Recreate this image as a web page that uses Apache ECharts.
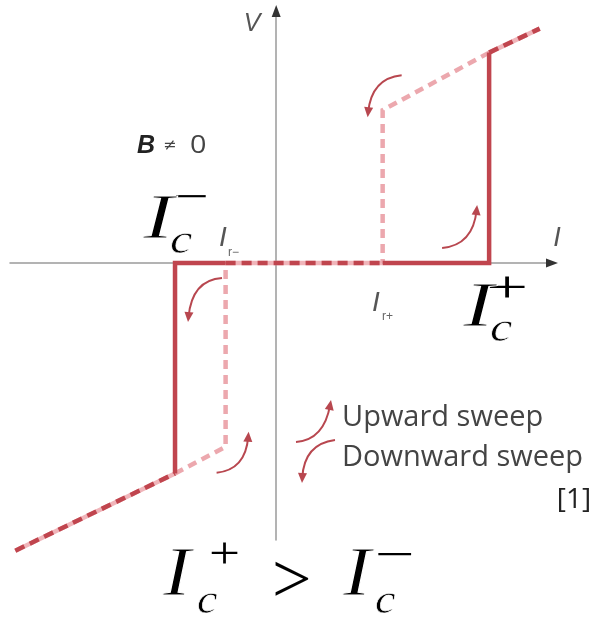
<!DOCTYPE html>
<html>
<head>
<meta charset="utf-8">
<script src="https://cdn.jsdelivr.net/npm/echarts@6/dist/echarts.min.js"></script>
<style>
  html, body { margin: 0; padding: 0; background: #ffffff; }
  #chart { width: 595px; height: 618px; }
</style>
</head>
<body>
<div id="chart"></div>
<script>
// Axis extents (arbitrary units)
const currentRange = [-5, 5.2];
const voltageRange = [-5.2, 4.75];

// Critical and retrapping currents
const icPlus = 4.0;
const icMinus = -1.9;
const irPlus = 2.0;
const irMinus = -0.95;

// Voltage right after each jump
const vAtIcPlus = 3.95;
const vAtIrPlus = 2.87;
const vAtIcMinus = -3.95;
const vAtIrMinus = -3.45;

// Far ends of the resistive branches
const currentEnds = [-4.9, 4.95];
const voltageEnds = [-5.4, 4.4];

// Branches of the loop as [current, voltage] pairs
const branchNegNormal = [[currentEnds[0], voltageEnds[0]], [icMinus, vAtIcMinus]];   // both sweeps
const branchZero = [[irMinus, 0], [irPlus, 0]];                                         // both sweeps
const branchPosNormal = [[icPlus, vAtIcPlus], [currentEnds[1], voltageEnds[1]]];       // both sweeps
const branchUpSwitch = [[irPlus, 0], [icPlus, 0], [icPlus, vAtIcPlus]];                 // upward sweep switches at Ic+
const branchDownSwitch = [[irMinus, 0], [icMinus, 0], [icMinus, vAtIcMinus]];           // downward sweep switches at Ic-
const branchUpRetrap = [[icMinus, vAtIcMinus], [irMinus, vAtIrMinus], [irMinus, 0]];    // upward sweep retraps at Ir-
const branchDownRetrap = [[icPlus, vAtIcPlus], [irPlus, vAtIrPlus], [irPlus, 0]];       // downward sweep retraps at Ir+

const RED = '#c0454e';
const PINK = '#eca8ae';
const PINK_UNDER = '#f0b5ba';
const AXIS = '#9a9a9a';
const ARROW = '#b8474f';

const chart = echarts.init(document.getElementById('chart'), null, { renderer: 'canvas' });

function lineSeries(name, data, lineStyle, z) {
  return {
    type: 'line', name, data, z,
    symbol: 'none', clip: false, silent: true, animation: false,
    lineStyle: Object.assign({ cap: 'butt', join: 'miter' }, lineStyle)
  };
}

const series = [];
// shared branches: pink band with red dashes on top
[branchNegNormal, branchZero, branchPosNormal].forEach((b, i) => {
  series.push(lineSeries('shared-under-' + i, b, { color: PINK_UNDER, width: 4.5 }, 2));
  series.push(lineSeries('shared-dash-' + i, b, { color: RED, width: 4.5, type: [10, 6] }, 3));
});
// retrapping branches: light dashed
series.push(lineSeries('up-retrap', branchUpRetrap, { color: PINK, width: 4.5, type: [9, 6] }, 2));
series.push(lineSeries('down-retrap', branchDownRetrap, { color: PINK, width: 4.5, type: [9, 6] }, 2));
// switching branches: solid
series.push(lineSeries('up-switch', branchUpSwitch, { color: RED, width: 4.5 }, 4));
series.push(lineSeries('down-switch', branchDownSwitch, { color: RED, width: 4.5 }, 4));

const axisCommon = {
  type: 'value',
  axisLine: { show: true, onZero: true, lineStyle: { color: AXIS, width: 1.5 } },
  axisTick: { show: false },
  axisLabel: { show: false },
  splitLine: { show: false }
};

chart.setOption({
  animation: false,
  backgroundColor: '#ffffff',
  grid: { left: 10, right: 42, top: 10, bottom: 78, containLabel: false },
  xAxis: Object.assign({}, axisCommon, { min: currentRange[0], max: currentRange[1] }),
  yAxis: Object.assign({}, axisCommon, { min: voltageRange[0], max: voltageRange[1] }),
  series
});

const px = (i, v) => chart.convertToPixel({ xAxisIndex: 0, yAxisIndex: 0 }, [i, v]);

function arrowHead(tip, dir, len, half, color) {
  const bx = tip[0] - dir[0] * len, by = tip[1] - dir[1] * len;
  const nx = -dir[1], ny = dir[0];
  return {
    type: 'polygon', silent: true, z: 10,
    shape: { points: [tip, [bx + nx * half, by + ny * half], [bx - nx * half, by - ny * half]] },
    style: { fill: color }
  };
}

function curvedArrow(p0, c, p1) {
  const dx = p1[0] - c[0], dy = p1[1] - c[1];
  const d = Math.hypot(dx, dy);
  const dir = [dx / d, dy / d];
  const end = [p1[0] - dir[0] * 5, p1[1] - dir[1] * 5];
  return [
    {
      type: 'bezierCurve', silent: true, z: 10,
      shape: { x1: p0[0], y1: p0[1], cpx1: c[0], cpy1: c[1], x2: end[0], y2: end[1] },
      style: { stroke: ARROW, lineWidth: 2, fill: null }
    },
    arrowHead(p1, dir, 10, 4.5, ARROW)
  ];
}

function shift(base, d) { return [base[0] + d[0], base[1] + d[1]]; }

const graphics = [];

// axis arrowheads
const xEnd = px(currentRange[1], 0);
const yEnd = px(0, voltageRange[1]);
graphics.push(arrowHead([xEnd[0] + 5, xEnd[1]], [1, 0], 12, 4.5, '#333333'));
graphics.push(arrowHead([yEnd[0], yEnd[1] - 5], [0, -1], 12, 4.5, '#333333'));

// sweep direction arrows next to the jumps
const aIrPlus = px(irPlus, vAtIrPlus);
const aIcPlus = px(icPlus, 0);
const aIcMinus = px(icMinus, 0);
const aIrMinus = px(irMinus, vAtIrMinus);
graphics.push(...curvedArrow(shift(aIrPlus, [19, -35]), shift(aIrPlus, [-11, -32]), shift(aIrPlus, [-15, 7])));
graphics.push(...curvedArrow(shift(aIcPlus, [-47, -15]), shift(aIcPlus, [-16, -18]), shift(aIcPlus, [-12, -58])));
graphics.push(...curvedArrow(shift(aIcMinus, [47, 15]), shift(aIcMinus, [17, 17]), shift(aIcMinus, [13, 59])));
graphics.push(...curvedArrow(shift(aIrMinus, [-9, 26]), shift(aIrMinus, [20, 23]), shift(aIrMinus, [23, -15])));

// legend arrows
graphics.push(...curvedArrow([296, 442], [324, 440], [331, 400]));
graphics.push(...curvedArrow([335, 440], [304, 444], [302, 483]));

function txt(text, x, y, font, color, opts) {
  const o = opts || {};
  const base = {
    type: 'text', silent: true, z: 20,
    x, y, scaleX: o.scaleX || 1, scaleY: o.scaleY || 1,
    style: {
      text, x: 0, y: 0, font, fill: color,
      align: o.align || 'left', verticalAlign: o.verticalAlign || 'middle'
    }
  };
  graphics.push(base);
  if (o.thin) {
    // a fine white outline traced over the glyph lightens its strokes
    graphics.push({
      type: 'text', silent: true, z: 21,
      x, y, scaleX: o.scaleX || 1, scaleY: o.scaleY || 1,
      style: {
        text, x: 0, y: 0, font, fill: 'none', stroke: '#ffffff', lineWidth: o.thin,
        align: o.align || 'left', verticalAlign: o.verticalAlign || 'middle'
      }
    });
  }
}

const SERIF_I = 'italic 64px "Liberation Serif"';
const SERIF_SUB = 'italic 42px "Liberation Serif"';
const SERIF_OP = '44px "Liberation Serif"';

// axis names
txt('V', 252, 24, 'italic 25px "Liberation Sans"', '#555555', { align: 'center' });
txt('I', 557, 238, 'italic 27px "Liberation Sans"', '#555555', { align: 'center' });

// field condition
txt('B', 137, 146, 'italic bold 25px "Liberation Sans"', '#222222');
txt('≠', 163, 146, '16px "DejaVu Sans"', '#444444');
txt('0', 190, 146, '25px "Open Sans"', '#444444', { scaleX: 1.15 });

// Ic− label
txt('I', 143, 221, SERIF_I, '#000000', { scaleX: 1.45, thin: 1 });
txt('c', 170, 242, SERIF_SUB, '#000000', { scaleX: 1.2, thin: 0.6 });
txt('−', 173, 199, SERIF_OP, '#000000', { scaleX: 1.45 });

// Ic+ label
txt('I', 463, 309, SERIF_I, '#000000', { scaleX: 1.45, thin: 1 });
txt('c', 490, 330, SERIF_SUB, '#000000', { scaleX: 1.2, thin: 0.6 });
txt('+', 486, 290, SERIF_OP, '#000000', { scaleX: 1.7 });

// Ir− and Ir+ labels
txt('I', 219, 238, 'italic 28px "Liberation Sans"', '#555555');
txt('r−', 228, 253, '12px "Liberation Sans"', '#666666');
txt('I', 372, 303, 'italic 28px "Liberation Sans"', '#555555');
txt('r+', 382, 317, '12px "Liberation Sans"', '#666666');

// legend text
txt('Upward sweep', 342, 418, '29px "Open Sans"', '#444444');
txt('Downward sweep', 342, 458, '29px "Open Sans"', '#444444');
txt('[1]', 574, 500, '28px "Open Sans"', '#222222', { align: 'center' });

// relation between critical currents
const SERIF_BIG_I = 'italic 70px "Liberation Serif"';
txt('I', 163, 577, SERIF_BIG_I, '#000000', { scaleX: 1.2, thin: 1 });
txt('+', 209, 556, SERIF_OP, '#000000', { scaleX: 1.25 });
txt('c', 197, 602, SERIF_SUB, '#000000', { scaleX: 1.1, thin: 0.6 });
txt('>', 272, 584, '70px "Liberation Serif"', '#000000');
txt('I', 343, 577, SERIF_BIG_I, '#000000', { scaleX: 1.2, thin: 1 });
txt('−', 375, 557, SERIF_OP, '#000000', { scaleX: 1.6 });
txt('c', 375, 602, SERIF_SUB, '#000000', { scaleX: 1.1, thin: 0.6 });

chart.setOption({ graphic: graphics });
</script>
</body>
</html>
